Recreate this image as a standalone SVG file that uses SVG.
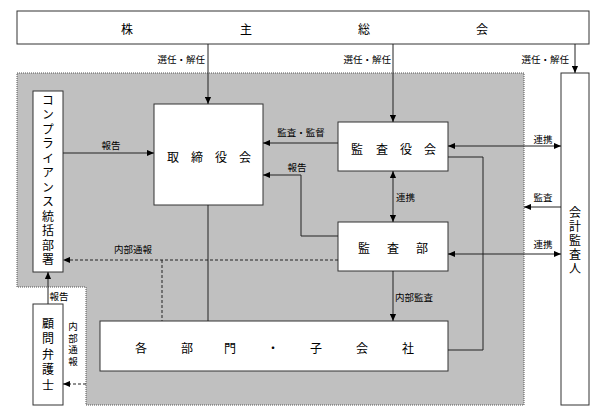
<svg xmlns="http://www.w3.org/2000/svg" width="607" height="412" viewBox="0 0 607 412">
<defs>
<marker id="ah" viewBox="0 0 8 8" refX="8" refY="4" markerWidth="7" markerHeight="7" markerUnits="userSpaceOnUse" orient="auto-start-reverse"><path d="M0,0.5 L8,4 L0,7.5 Z" fill="#000"/></marker>
<style>
.box{fill:#fff;stroke:#333;stroke-width:1}
.ln{fill:none;stroke:#222;stroke-width:1}
.dash{fill:none;stroke:#222;stroke-width:1;stroke-dasharray:3 2}
.t{font-family:"Noto Sans CJK JP","Noto Sans CJK SC",sans-serif;font-size:12px;fill:#000;text-anchor:middle;dominant-baseline:central}
.l{font-family:"Noto Sans CJK JP","Noto Sans CJK SC",sans-serif;font-size:9.5px;fill:#000}
.v{writing-mode:vertical-rl;text-anchor:middle}
</style>
</defs>
<rect width="607" height="412" fill="#fff"/>
<path id="region" d="M17,73 H524 V405 H86 V287 H17 Z" fill="#c0c0c0" stroke="#555" stroke-width="1" stroke-dasharray="1 1"/>
<g id="shareholders"><rect class="box" x="17" y="11" width="572" height="33"/><text class="t" x="127 246 364 482" y="28">株主総会</text></g>
<g id="board"><rect class="box" x="154" y="104" width="109" height="101"/><text class="t" x="173 197 221 245" y="156">取締役会</text></g>
<g id="auditors"><rect class="box" x="338" y="122" width="110" height="49"/><text class="t" x="357 382 406 430" y="148">監査役会</text></g>
<g id="audit-dept"><rect class="box" x="338" y="222" width="110" height="49"/><text class="t" x="364 393 422" y="247">監査部</text></g>
<g id="depts"><rect class="box" x="100" y="321" width="348" height="50"/><text class="t" x="141 187 230 273 316 362 408" y="347">各部門・子会社</text></g>
<g id="compliance"><rect class="box" x="33" y="91" width="30" height="181"/><text class="t v" x="48" y="181" style="letter-spacing:2.5px">コンプライアンス統括部署</text></g>
<g id="accountant"><rect class="box" x="561" y="73" width="28" height="332"/><text class="t v" x="575" y="241" style="letter-spacing:2px">会計監査人</text></g>
<g id="lawyer"><rect class="box" x="33" y="304" width="30" height="101"/><text class="t v" x="48" y="356" style="letter-spacing:3.5px">顧問弁護士</text></g>
<g id="connectors">
<path class="ln" d="M208,44 V104" marker-end="url(#ah)"/>
<path class="ln" d="M393,44 V122" marker-end="url(#ah)"/>
<path class="ln" d="M575,44 V73" marker-end="url(#ah)"/>
<path class="ln" d="M63,153 H154" marker-end="url(#ah)"/>
<path class="ln" d="M338,143 H263" marker-end="url(#ah)"/>
<path class="ln" d="M338,236 H301 V175 H263" marker-end="url(#ah)"/>
<path class="ln" d="M393,171 V222" marker-start="url(#ah)" marker-end="url(#ah)"/>
<path class="ln" d="M448,146 H561" marker-start="url(#ah)" marker-end="url(#ah)"/>
<path class="ln" d="M561,207 H524" marker-end="url(#ah)"/>
<path class="ln" d="M448,254 H561" marker-start="url(#ah)" marker-end="url(#ah)"/>
<path class="ln" d="M448,157 H483 V350 H448"/>
<path class="ln" d="M393,271 V321" marker-end="url(#ah)"/>
<path class="ln" d="M208,205 V321"/>
<path class="dash" d="M338,260 H63" marker-end="url(#ah)"/>
<path class="dash" d="M162,260 V321"/>
<path class="ln" d="M48,304 V272" marker-end="url(#ah)"/>
<path class="dash" d="M86,384 H63" marker-end="url(#ah)"/>
</g>
<g id="labels">
<text class="l" x="205" y="63" text-anchor="end">選任・解任</text>
<text class="l" x="391" y="63" text-anchor="end">選任・解任</text>
<text class="l" x="569" y="63" text-anchor="end">選任・解任</text>
<text class="l" x="111" y="149" text-anchor="middle">報告</text>
<text class="l" x="301" y="136" text-anchor="middle">監査・監督</text>
<text class="l" x="297" y="171" text-anchor="middle">報告</text>
<text class="l" x="396" y="201">連携</text>
<text class="l" x="543" y="143" text-anchor="middle">連携</text>
<text class="l" x="543" y="201" text-anchor="middle">監査</text>
<text class="l" x="543" y="248" text-anchor="middle">連携</text>
<text class="l" x="133" y="253" text-anchor="middle">内部通報</text>
<text class="l" x="414" y="301" text-anchor="middle">内部監査</text>
<text class="l" x="59" y="300" text-anchor="middle">報告</text>
<text class="l v" x="73" y="345" style="letter-spacing:2px">内部通報</text>
</g>
</svg>
